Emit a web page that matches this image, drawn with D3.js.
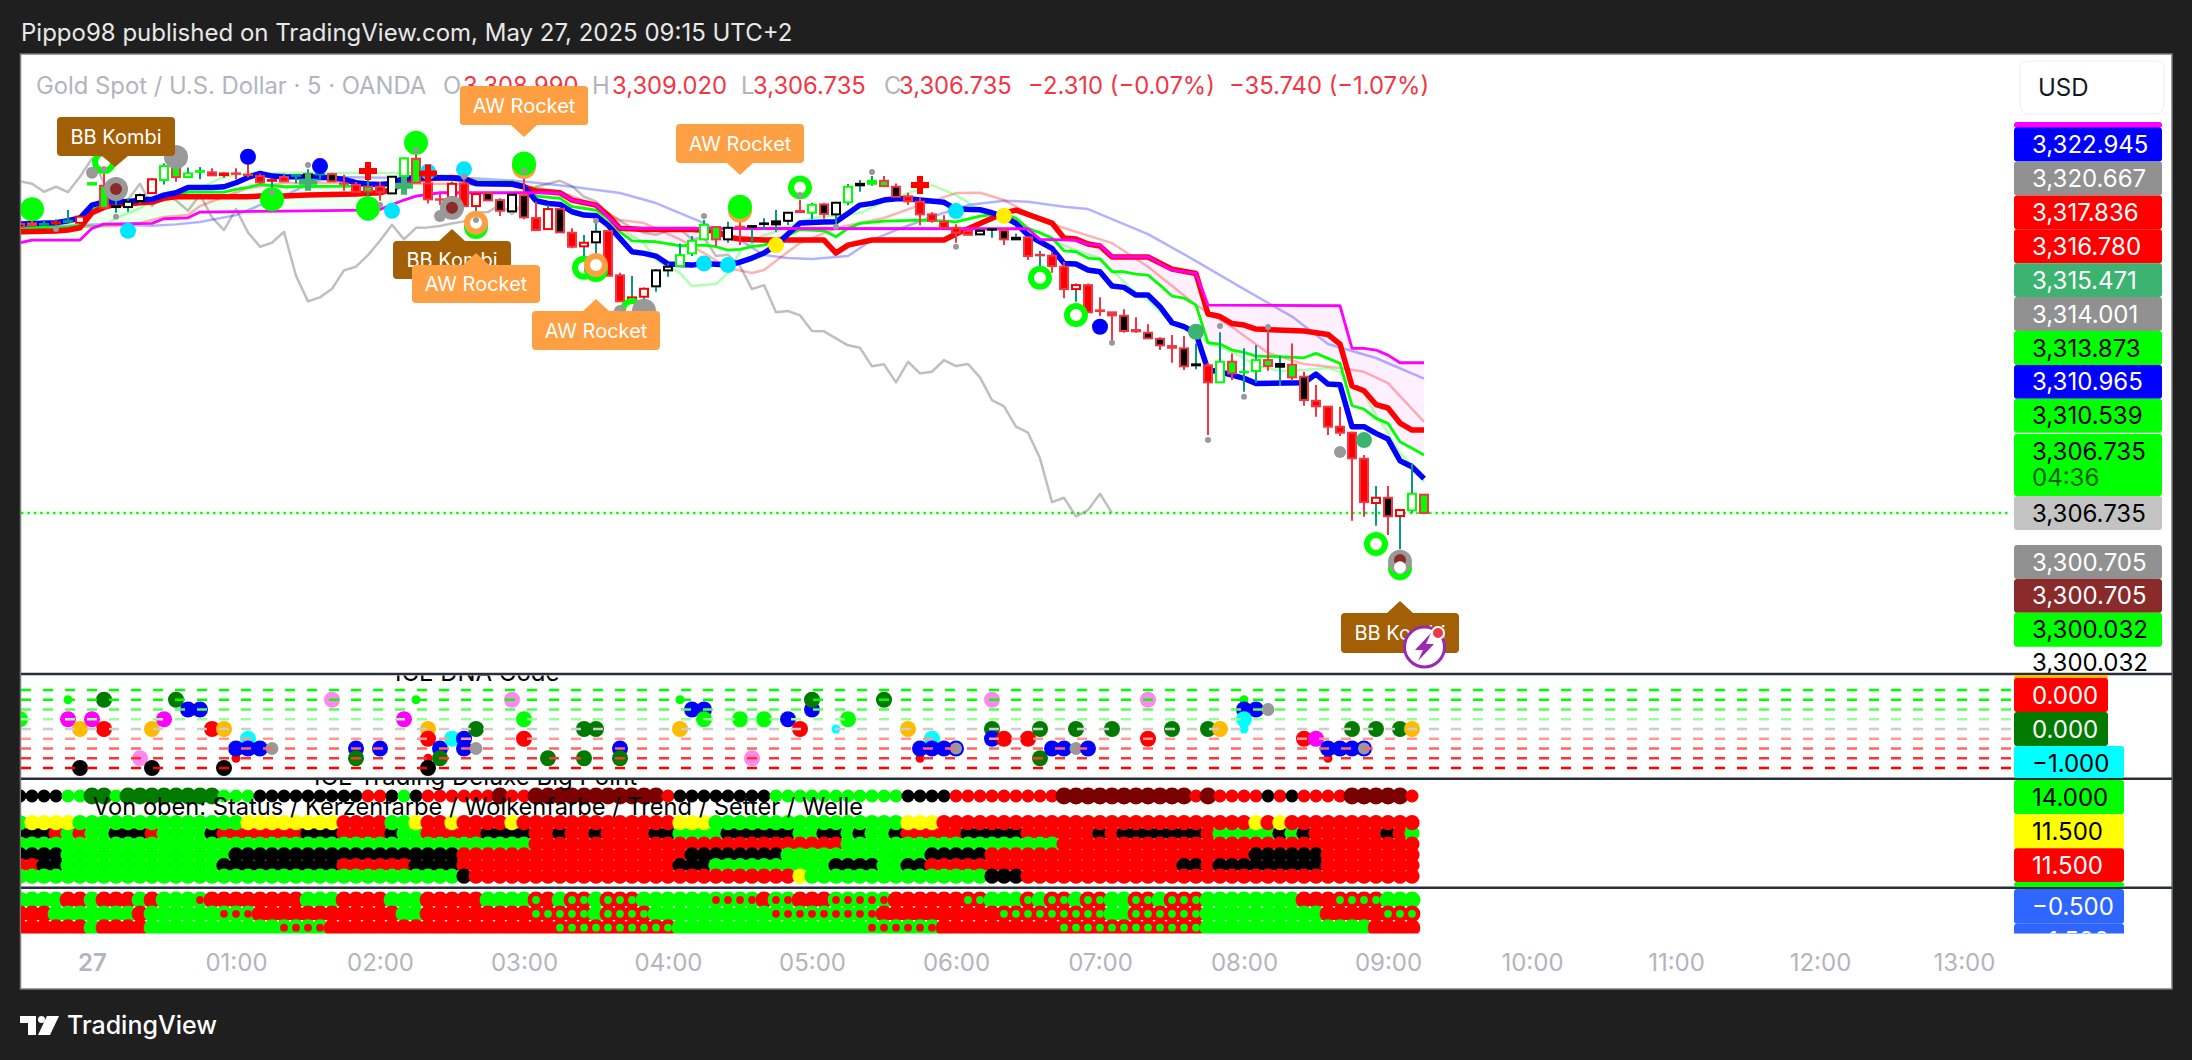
<!DOCTYPE html>
<html>
<head>
<meta charset="utf-8">
<script src="https://cdn.jsdelivr.net/npm/d3@7"></script>
<style>
body { margin: 0; background: #1f1f1f; }
text { font-family: Inter, sans-serif; }
</style>
</head>
<body>
<div id="chart"></div>
<script>
// candles, one per 5 min bar, 23:30 to 09:15
const candleOpen = [3342.28,3342.36,3342.19,3342.36,3342.52,3342.44,3347.14,3346.99,3344.37,3344.37,
3345.11,3346.09,3347.69,3349.50,3348.06,3348.71,3348.64,3348.30,3348.51,3348.34,
3348.18,3347.60,3347.53,3348.22,3348.10,3348.39,3348.43,3347.28,3347.11,3346.30,
3346.87,3346.05,3348.18,3350.31,3347.28,3345.32,3345.19,3347.28,3344.49,3346.09,
3345.23,3343.84,3345.81,3343.02,3341.66,3344.16,3341.21,3339.54,3340.03,3341.42,
3335.97,3332.72,3333.34,3334.62,3336.58,3337.11,3338.67,3340.40,3341.91,3340.40,
3341.95,3341.95,3342.28,3342.24,3342.68,3343.88,3343.67,3344.70,3343.47,3344.95,
3347.04,3347.23,3347.60,3346.87,3345.69,3345.02,3343.47,3342.56,3341.82,3341.42,
3341.01,3341.58,3341.50,3340.40,3340.64,3338.43,3338.38,3337.03,3334.28,3334.77,
3331.66,3331.42,3331.00,3329.24,3328.91,3328.17,3327.27,3326.99,3324.90,3324.90,
3322.81,3325.34,3324.04,3324.20,3325.55,3324.73,3324.97,3323.50,3320.54,3319.81,
3317.35,3316.61,3313.41,3307.96,3308.61,3306.36,3307.06,3308.99];
const candleHigh = [3342.28,3342.68,3342.77,3342.86,3344.00,3343.26,3347.32,3348.71,3345.44,3345.44,
3346.05,3347.90,3349.74,3349.74,3349.25,3349.29,3349.13,3348.59,3349.13,3349.74,
3348.51,3347.69,3348.51,3348.43,3349.01,3348.71,3348.59,3348.34,3347.44,3347.69,
3347.44,3348.18,3350.48,3351.05,3348.30,3345.97,3347.48,3347.78,3346.05,3346.25,
3345.44,3345.97,3348.30,3345.02,3344.61,3344.25,3341.75,3340.92,3342.77,3341.54,
3336.29,3335.88,3334.49,3336.71,3337.44,3339.90,3340.80,3342.77,3341.95,3342.56,
3342.86,3342.07,3342.98,3344.00,3343.72,3345.23,3344.90,3344.90,3345.02,3347.20,
3347.69,3348.18,3348.18,3347.28,3346.13,3345.56,3343.72,3343.35,3342.24,3341.63,
3341.87,3341.70,3341.75,3341.13,3340.72,3338.96,3338.87,3337.64,3334.98,3334.98,
3333.26,3331.45,3331.79,3330.80,3329.94,3328.34,3328.62,3328.50,3327.60,3325.22,
3328.96,3326.37,3326.99,3327.39,3329.45,3326.04,3327.60,3324.11,3322.47,3319.81,
3319.81,3316.73,3313.86,3310.05,3310.05,3307.10,3312.84,3309.02];
const candleLow = [3341.91,3342.03,3342.03,3341.54,3342.36,3342.15,3347.14,3344.21,3343.67,3343.79,
3344.82,3346.05,3347.16,3347.48,3347.97,3347.78,3348.27,3347.97,3347.78,3348.02,
3347.28,3346.13,3347.48,3347.28,3348.10,3347.78,3347.44,3346.37,3346.25,3345.48,
3345.14,3345.97,3346.37,3347.36,3344.82,3344.61,3345.11,3344.41,3342.98,3345.19,
3343.26,3343.75,3342.86,3341.54,3341.66,3341.17,3339.29,3338.26,3338.26,3335.92,
3332.77,3332.52,3332.60,3333.95,3335.80,3337.11,3338.34,3340.31,3339.57,3339.98,
3339.69,3339.98,3341.54,3341.33,3342.15,3343.75,3342.86,3342.93,3341.95,3344.58,
3346.25,3346.99,3346.87,3345.56,3344.61,3342.12,3342.44,3341.75,3339.98,3340.92,
3340.92,3340.59,3339.69,3340.40,3337.85,3337.11,3336.29,3333.14,3332.72,3331.42,
3330.96,3327.80,3328.91,3328.91,3328.22,3326.78,3325.22,3324.32,3324.41,3316.32,
3322.76,3323.09,3321.65,3322.76,3324.23,3322.35,3323.00,3319.93,3318.58,3316.32,
3316.20,3305.78,3306.28,3305.17,3304.02,3302.27,3306.77,3306.735];
const candleClose = [3341.91,3342.15,3342.28,3342.49,3342.68,3343.18,3347.32,3344.28,3344.46,3345.02,
3345.84,3347.78,3349.41,3348.06,3348.51,3348.80,3348.27,3348.51,3348.46,3348.30,
3347.41,3347.69,3348.06,3348.30,3348.39,3348.43,3347.53,3347.23,3346.25,3346.87,
3346.21,3348.10,3350.36,3347.36,3345.32,3345.27,3347.23,3344.49,3345.97,3345.19,
3343.91,3345.88,3343.10,3341.54,3344.12,3341.26,3339.49,3339.98,3341.33,3335.92,
3332.77,3333.26,3334.32,3336.58,3337.03,3338.46,3340.22,3342.19,3340.40,3341.82,
3341.87,3342.03,3342.36,3342.61,3343.67,3343.75,3344.65,3343.51,3344.90,3346.87,
3347.23,3347.60,3346.95,3345.64,3345.07,3343.47,3342.68,3341.82,3341.21,3340.96,
3341.45,3341.63,3340.40,3340.59,3338.34,3338.50,3337.11,3334.28,3334.77,3331.42,
3331.58,3331.05,3329.12,3329.08,3328.22,3327.36,3327.06,3324.78,3325.02,3322.81,
3325.34,3323.91,3324.11,3325.55,3324.81,3325.06,3323.42,3320.63,3319.86,3317.35,
3316.61,3313.46,3308.08,3308.61,3306.33,3307.10,3309.10,3306.735];
const candleKinds = "b c t e t R l g k K K R G g G l r e c c r e r t k t b c r g r K G g r c R r R b b K b r R b r R K r r R R K K G G G g K c k k k K c G b K G k l g b r r r r r r K k b k r c r r R r c c b c b b c b k r G g l G g k g b r r r r r R b R G g".split(" ");

// moving averages, read at their vertices
const blueBars = [0,3,4,5,6,7,9,10,11,12,13,14,16,17,18,19,20,21,22,25,27,28,29,30,31,32,34,36,37,38,41,42,43,44,45,46,47,48,49,50,51,52,53,54,56,57,59,60,61,62,63,64,65,67,68,69,70,71,72,73,74,75,77,78,80,81,82,83,84,85,86,87,88,89,90,91,92,93,94,95,96,97,98,99,100,101,102,103,107,108,109,110,111,112,113,114,115,116,117];
const blueValues = [3342.28,3342.44,3342.68,3343.02,3344.61,3345.02,3345.02,3345.23,3345.32,3345.84,3346.13,3346.79,3346.79,3346.87,3347.36,3348.02,3348.51,3348.18,3348.10,3348.06,3347.78,3347.36,3347.20,3347.16,3347.28,3347.90,3348.02,3347.94,3347.78,3347.28,3347.20,3346.87,3345.14,3344.82,3344.70,3343.79,3343.38,3343.30,3342.15,3340.52,3338.87,3338.67,3338.34,3337.36,3337.23,3337.44,3337.23,3337.60,3338.10,3338.71,3339.69,3341.05,3342.40,3342.52,3342.56,3343.59,3344.61,3344.82,3345.23,3345.39,3345.39,3345.23,3344.95,3344.12,3344.04,3343.67,3343.18,3342.36,3340.92,3340.10,3339.29,3337.44,3337.36,3336.62,3336.41,3334.65,3334.49,3333.54,3333.54,3332.11,3330.14,3329.65,3328.83,3324.32,3324.11,3323.70,3323.30,3322.68,3322.76,3323.83,3322.60,3322.51,3317.35,3317.35,3316.53,3315.83,3313.16,3312.43,3310.965];
const redBars = [0,3,4,5,6,7,8,9,10,11,12,13,19,20,22,24,28,30,31,32,33,36,37,38,41,42,43,45,46,48,49,50,52,56,58,59,60,62,67,68,69,71,77,78,82,83,86,87,88,89,90,91,94,96,98,99,100,101,102,103,107,109,110,111,112,113,114,115,116,117];
const redValues = [3341.33,3341.42,3341.54,3341.82,3343.67,3344.33,3344.74,3344.74,3344.90,3344.98,3345.44,3345.64,3345.64,3345.72,3345.72,3345.84,3345.97,3346.13,3346.55,3347.28,3347.78,3348.02,3347.90,3347.28,3347.20,3346.87,3346.34,3346.13,3345.23,3344.61,3343.38,3341.75,3341.60,3341.60,3341.42,3340.68,3340.43,3340.31,3340.31,3338.71,3339.69,3340.31,3340.31,3341.05,3343.63,3344.00,3342.40,3340.56,3340.43,3339.82,3339.57,3338.22,3338.22,3336.74,3336.19,3331.21,3330.90,3330.04,3329.85,3329.36,3329.12,3328.69,3327.52,3322.35,3321.77,3320.08,3319.65,3317.80,3316.94,3316.94];
const limeBars = [0,4,5,6,7,8,10,11,12,13,14,17,18,19,20,22,28,30,31,32,33,36,37,38,41,42,43,45,46,48,49,50,51,53,55,57,58,59,60,61,62,63,64,65,67,68,69,70,72,75,77,78,80,82,83,84,85,86,87,88,89,90,91,92,93,94,95,96,97,98,99,100,101,102,103,105,107,108,109,110,111,112,113,114,115,116,117];
const limeValues = [3341.79,3341.91,3342.15,3344.00,3344.74,3344.90,3345.02,3345.14,3345.64,3345.84,3346.21,3346.21,3346.55,3346.79,3347.16,3346.87,3346.95,3347.07,3347.28,3347.69,3348.02,3348.10,3348.02,3347.48,3347.48,3347.07,3345.72,3345.44,3344.41,3344.00,3342.98,3341.33,3340.22,3340.10,3339.61,3339.69,3339.49,3339.08,3339.17,3339.49,3339.69,3340.31,3340.92,3341.60,3341.45,3340.72,3341.75,3342.36,3342.65,3342.77,3342.68,3342.56,3343.26,3343.59,3342.98,3341.75,3341.21,3340.56,3338.99,3338.87,3338.10,3337.97,3336.41,3336.41,3336.13,3336.00,3334.77,3333.42,3333.18,3332.31,3327.68,3327.52,3326.78,3326.50,3326.04,3325.96,3325.83,3326.37,3325.76,3325.14,3319.93,3319.52,3318.38,3317.76,3315.50,3314.69,3313.86];
const magentaBars = [0,1,5,6,7,11,12,14,15,22,29,30,32,33,35,44,45,46,48,49,50,84,85,88,89,90,91,94,95,96,98,99,110,111,112,113,114,115,117];
const magentaValues = [3339.98,3340.31,3340.31,3341.75,3342.28,3342.36,3342.93,3343.05,3343.75,3343.88,3344.00,3344.09,3345.23,3345.72,3346.13,3346.13,3346.09,3345.23,3344.61,3343.18,3341.75,3341.70,3340.40,3340.31,3339.82,3339.69,3338.26,3338.26,3337.44,3336.62,3336.21,3332.31,3332.23,3326.99,3326.99,3326.78,3326.16,3325.22,3325.22];
const slowBlueBars = [0,5,7,11,13,15,18,20,22,24,26,32,36,41,43,46,50,53,55,57,58,60,62,64,66,69,71,73,76,79,82,84,87,89,94,98,102,106,109,113,117];
const slowBlueValues = [3341.79,3342.15,3342.24,3342.07,3342.24,3342.52,3343.38,3344.61,3345.72,3347.20,3348.06,3347.94,3348.06,3347.63,3347.36,3346.87,3346.09,3344.86,3343.63,3342.40,3341.54,3340.31,3338.46,3338.10,3337.97,3338.34,3340.31,3341.54,3343.18,3344.61,3345.14,3345.02,3344.41,3344.12,3341.05,3337.73,3334.28,3330.90,3327.52,3325.80,3323.26];
const slowRedBars = [0,8,10,12,14,15,17,19,22,30,36,41,43,45,48,49,50,52,55,57,59,61,62,64,65,68,72,75,78,80,82,84,87,91,94,98,101,104,107,110,112,114,115,117];
const slowRedValues = [3341.79,3342.03,3342.40,3343.14,3343.38,3344.49,3345.64,3346.71,3347.32,3347.32,3347.20,3346.95,3346.71,3346.25,3344.61,3343.63,3342.77,3342.40,3340.40,3338.71,3336.87,3336.25,3336.62,3338.87,3339.94,3341.79,3343.02,3344.61,3346.09,3346.13,3345.23,3343.63,3341.79,3339.94,3337.03,3332.31,3329.61,3326.41,3325.06,3324.57,3324.11,3322.72,3321.12,3317.96];
const slowGreenBars = [0,7,8,10,12,15,17,19,25,33,36,38,43,46,48,50,52,53,55,56,58,59,60,62,63,65,66,70,72,74,76,78,80,82,85,86,88,90,91,93,94,96,98,99,101,103,105,107,109,110,111,112,113,114,115,116,117];
const slowGreenValues = [3341.91,3342.03,3343.02,3344.25,3346.09,3346.71,3348.10,3348.55,3348.55,3348.55,3348.18,3347.69,3346.71,3345.23,3343.63,3341.79,3339.94,3337.85,3336.25,3334.65,3334.90,3336.25,3338.87,3340.92,3341.33,3342.56,3343.02,3343.63,3345.02,3346.09,3347.07,3345.84,3344.00,3342.77,3341.17,3340.31,3339.08,3338.10,3336.62,3333.79,3332.93,3330.10,3328.87,3327.64,3326.57,3324.93,3324.20,3324.32,3324.57,3324.11,3322.47,3321.49,3318.78,3316.57,3314.11,3312.63,3310.58];

// markers on the price pane
const markerBars = [1,7,13,6,8,8,19,3,8,7,21,21,9,24,25,24,29,29,29,30,31,32,33,33,34,34,37,37,36,36,35,38,38,38,42,42,42,47,48,48,48,51,52,50,57,57,59,60,60,63,65,65,68,71,75,78,78,82,85,88,90,91,98,99,100,102,104,110,112,113,115,115,115,115];
const markerPrices = [3344.09,3349.90,3350.52,3348.59,3346.58,3346.58,3350.56,3341.66,3343.18,3349.04,3345.32,3346.13,3341.45,3349.53,3349.41,3347.48,3343.63,3344.21,3348.80,3344.61,3343.91,3346.99,3352.28,3351.38,3348.71,3348.51,3349.01,3348.10,3344.28,3344.28,3343.26,3341.91,3342.44,3342.77,3349.29,3349.74,3348.83,3336.90,3336.62,3337.23,3342.68,3331.70,3331.61,3331.58,3337.44,3343.26,3337.23,3343.91,3344.41,3339.69,3346.79,3345.84,3341.95,3348.67,3347.07,3343.88,3339.49,3343.30,3335.67,3331.08,3329.65,3327.68,3329.03,3315.71,3329.73,3321.04,3329.61,3314.23,3315.71,3302.92,3299.93,3300.74,3300.95,3300.05];
const markerKinds = ["lime","limeRing","gray","graySmall","gray","brown","blue","dot","dot","dot","lime","dot","cyan","dot","blue","seaCross","cyan","lime","redCross","dot","cyan","seaCross","lime","dot","cyan","redCross","cyan","dot","gray","brown","graySmall","lime","orangeRing","dot","orange","lime","dot","limeRing","lime","orangeRing","dot","limeRing","gray","graySmall","cyan","dot","cyan","orange","lime","yellow","limeRing","dot","dot","dot","redCross","cyan","dot","yellow","limeRing","limeRing","blue","dot","sea","dot","dot","dot","dot","graySmall","sea","limeRing","limeRing","gray","brown","hole"];

// ICE DNA Code dots
const dnaBars = [0,4,7,4,5,6,7,5,10,11,12,11,13,14,15,16,17,17,18,19,18,19,20,21,26,28,28,30,32,33,34,34,34,34,35,35,36,37,37,38,38,41,42,42,44,47,48,47,50,50,55,55,56,57,57,60,62,61,64,65,66,66,68,69,72,74,75,75,76,76,77,78,81,81,81,82,84,85,85,86,87,88,89,88,91,94,94,96,99,100,102,102,103,104,102,102,107,108,109,109,110,111,112,111,113,115,116];
const dnaLevels = [1,3,3,1,0,1,0,-4,-3,0,1,-4,3,2,2,0,0,-4,-3,-1,-2,-2,-2,-2,3,-2,-3,-2,1,3,0,-1,-3,-4,-2,-3,-1,-1,-2,0,-2,3,1,-1,-3,0,0,-3,-2,-3,3,0,2,2,1,1,1,-3,1,0,2,3,0,1,3,0,-3,-2,-1,-2,-2,-2,3,0,-1,-1,-1,0,-3,-2,-2,-2,-2,0,0,3,-1,0,0,0,3,2,2,2,1,0,-1,-1,-3,-2,-2,-2,-2,0,0,0,0];
const dnaKinds = ["lime","limeS","green","magenta","amber","magenta","red","black","pink","amber","magenta","black","green","blue","blue","red","amber","black","redS","cyan","blue","blue","blue","gray","pink","blue","green","blue","magenta","limeS","amber","red","redS","black","blue","green","cyan","blue","blue","green","gray","pink","lime","red","green","green","green","green","blue","green","limeS","amber","blue","blue","lime","lime","lime","pink","blue","red","blue","green","cyanS","lime","green","amber","redS","blue","cyan","blue","blue","grayBlue","pink","green","blue","red","red","green","green","blue","blue","gray","blue","green","green","pink","red","green","green","amber","limeS","blue","blue","gray","cyan","cyanS","red","magenta","redS","blue","blue","blue","grayBlue","green","green","green","amber"];
const dnaLevelColors = ["#00ff00","#00ff00","#55ff55","#99ff99","#cccccc","#ff9999","#ff6666","#ff3333","#ff0000"];
const dnaLevelValues = [4,3,2,1,0,-1,-2,-3,-4];

// Big Point rows, "code count" runs per bar
const statusRow = "k4 l2 g2 l1 g8 l3 k9 r2 k1 l1 k1 r6 d1 r2 d11 r1 k8 l11 k4 r9 d11 r1 d1 r4 k1 r1 k1 r4 d5 r1";
const bigPointRows = [
  ["Wolkenfarbe", "k3 r1 l1 r1 l2 k3 r1 l4 k1 r7 k3 r4 k1 l2 r5 k4 r2 k1 r2 k1 r4 k2 l4 k6 l2 k2 l1 k1 l2 k1 r5 k5 r6 k1 r1 k7 r1 l5 k1 l1 k1 r6 k1 r1 l1"],
  ["Kerzenfarbe", "l1 y4 l14 y8 r4 l2 y1 r2 y1 r4 y1 r13 y3 l16 y3 r26 y1 r1 y1 r11"],
  ["Trend", "l43 r26 l18 r30"],
  ["Setter", "k4 l14 k19 r19 k8 l12 k5 r22 k6 r8"],
  ["Welle", "r2 k2 l13 k10 r6 k4 r18 k3 l10 k4 l2 k2 r21 k2 r1 k9 r8"],
  ["Basis", "l37 k1 r27 y1 l15 k3 r33"]
];
// lowest pane, L lime, R red, a lime with red core, b red with lime core
const signalRows = [
  "L4 R2 L1 R3 L1 R1 L3 a1 R8 L3 R4 L3 R5 L4 b1 R1 L1 b2 L1 b3 L6 a4 R1 a2 R3 a5 R6 b2 L3 b1 L1 b2 L1 b2 L2 b2 L1 b3 L8 R3 b4 L3",
  "R3 L7 R1 L6 a3 R12 L2 R9 b5 L1 b4 L10 a9 R10 b9 L2 b6 L10 R5 b3",
  "R6 L1 R4 L11 a4 R19 b10 L16 a6 R10 b12 L14 R4"
];

// price scale labels
const priceTags = ["3,322.945","3,320.667","3,317.836","3,316.780","3,315.471","3,314.001","3,313.873","3,310.965","3,310.539"];
const priceTagFills = ["#0000ff","#919191","#ff0000","#ff0000","#3cb371","#919191","#00ff00","#0000ff","#00ff00"];
const priceTagInk = ["#fff","#fff","#fff","#fff","#fff","#fff","#000","#fff","#000"];
const lowTags = ["3,300.705","3,300.705","3,300.032"];
const lowTagFills = ["#919191","#8b2a2a","#00ff00"];
const lowTagInk = ["#fff","#fff","#000"];
const lastPrice = 3306.735;

const hourBars = [6,18,30,42,54,66,78,90,102,114,126,138,150,162];
const hourLabels = ["27","01:00","02:00","03:00","04:00","05:00","06:00","07:00","08:00","09:00","10:00","11:00","12:00","13:00"];

const legendGray = [["Gold Spot / U.S. Dollar · 5 · OANDA",36],["O",443],["H",592],["L",741],["C",884]];
const legendRed = [["3,308.990",463],["3,309.020",612],["3,306.735",753],["3,306.735",899],["−2.310 (−0.07%)",1028],["−35.740 (−1.07%)",1229]];

const tagColors = {bb:"#a35f05", aw:"#ff9f43"};
const tags = [
  {kind:"aw",label:"AW Rocket",x0:460,x1:588,y0:86,y1:125,tip:524,tipY:137},
  {kind:"aw",label:"AW Rocket",x0:676,x1:804,y0:124,y1:163,tip:740,tipY:175},
  {kind:"bb",label:"BB Kombi",x0:57,x1:175,y0:117,y1:156,tip:115,tipY:167},
  {kind:"bb",label:"BB Kombi",x0:393,x1:511,y0:241,y1:279,tip:452,tipY:229},
  {kind:"aw",label:"AW Rocket",x0:412,x1:540,y0:265,y1:303,tip:476,tipY:253},
  {kind:"aw",label:"AW Rocket",x0:532,x1:660,y0:311,y1:350,tip:596,tipY:299},
  {kind:"bb",label:"BB Kombi",x0:1341,x1:1459,y0:613,y1:653,tip:1400,tipY:601}
];

let svg = d3.select("#chart").append("svg")
.attr("width",2192).attr("height",1060)
.style("display","block");

let defs = svg.append("defs");
defs.append("clipPath").attr("id","mainClip").append("rect").attr("x",21).attr("y",55).attr("width",2150).attr("height",618);
defs.append("clipPath").attr("id","dnaClip").append("rect").attr("x",21).attr("y",675.5).attr("width",1990).attr("height",102);
defs.append("clipPath").attr("id","pointClip").append("rect").attr("x",21).attr("y",780).attr("width",1990).attr("height",107);
defs.append("clipPath").attr("id","signalClip").append("rect").attr("x",21).attr("y",889).attr("width",1990).attr("height",44.5);

svg.append("rect").attr("x",20.5).attr("y",54).attr("width",2151.5).attr("height",935)
.attr("fill","white").attr("stroke","#7c7c7c").attr("stroke-width",1.5);

let x = d3.scaleLinear().domain([0,117]).range([20,1424]);
let y = d3.scaleLinear().domain([3300,3360]).range([567.75,80]);
let close = candleClose;

let main = svg.append("g").attr("clip-path","url(#mainClip)");

let toPoints = (bars,values) => bars.map((b,i)=>({bar:b,price:values[i]}));
let priceLine = d3.line().x(d=>x(d.bar)).y(d=>y(d.price));

// cloud between lime and magenta, green above magenta, pink below
let limePts = toPoints(limeBars,limeValues);
let magentaPts = toPoints(magentaBars,magentaValues);
let cloudPath = priceLine(limePts) + "L" + priceLine(magentaPts.slice().reverse()).slice(1) + "Z";
let aboveMagenta = priceLine(magentaPts) + `L${x(117)},0L${x(0)},0Z`;
let belowMagenta = priceLine(magentaPts) + `L${x(117)},700L${x(0)},700Z`;
defs.append("clipPath").attr("id","aboveClip").append("path").attr("d",aboveMagenta);
defs.append("clipPath").attr("id","belowClip").append("path").attr("d",belowMagenta);
main.append("path").attr("d",cloudPath).attr("fill","rgba(0,255,0,0.06)").attr("clip-path","url(#aboveClip)");
main.append("path").attr("d",cloudPath).attr("fill","rgba(255,0,255,0.06)").attr("clip-path","url(#belowClip)");

// horizontal last price
main.append("line").attr("x1",21).attr("x2",2010).attr("y1",y(lastPrice)).attr("y2",y(lastPrice))
.attr("stroke","#00ff00").attr("stroke-width",2.5).attr("stroke-dasharray","2.5 3.9");

let drawLine = (pts,color,width) => main.append("path")
.attr("d",priceLine(pts)).attr("fill","none").attr("stroke",color).attr("stroke-width",width)
.attr("stroke-linejoin","round");

// lagging close, shifted back 26 bars
let lagPts = close.slice(26).map((c,i)=>({bar:i,price:c}));
drawLine(lagPts,"rgba(128,128,128,0.5)",2.5);
drawLine(toPoints(slowBlueBars,slowBlueValues),"rgba(0,0,255,0.3)",2.5);
drawLine(toPoints(slowRedBars,slowRedValues),"rgba(255,0,0,0.3)",2.5);
drawLine(toPoints(slowGreenBars,slowGreenValues),"rgba(0,255,0,0.3)",2.5);
drawLine(limePts,"#00ff00",2.8);
drawLine(toPoints(redBars,redValues),"#ff0000",5.5);
drawLine(toPoints(blueBars,blueValues),"#0000ff",5.5);
drawLine(magentaPts,"#ff00ff",2.8);

// candles
const kindFill = {r:"#ff0000",b:"#000",g:"#00ff00",R:"#fff",G:"#fff",K:"#fff",c:"#f23645",k:"#000",l:"#00ff00",t:"#089981",e:"#ff0000"};
const kindBorder = {r:"#f23645",b:"#f23645",g:"#f23645",R:"#ff0000",G:"#00ff00",K:"#000",c:"#f23645",k:"#000",l:"#00ff00",t:"#089981",e:"#ff0000"};
let candles = main.selectAll(".candle").data(d3.range(candleOpen.length)).enter().append("g").attr("class","candle");
candles.append("line")
.attr("x1",i=>x(i)).attr("x2",i=>x(i))
.attr("y1",i=>y(candleHigh[i])).attr("y2",i=>y(candleLow[i]))
.attr("stroke",i=>candleClose[i]>=candleOpen[i] ? "#089981" : "#f23645")
.attr("stroke-width",2);
candles.append("rect")
.attr("x",i=>x(i)-4)
.attr("width",8)
.attr("y",i=>y(Math.max(candleOpen[i],candleClose[i])))
.attr("height",i=>Math.abs(y(candleOpen[i])-y(candleClose[i])))
.attr("fill",i=>kindFill[candleKinds[i]])
.attr("stroke",i=>kindBorder[candleKinds[i]])
.attr("stroke-width",2);

// markers
const discs = {lime:["#00ff00",12],gray:["#999999",12],graySmall:["#999999",6],dot:["#999999",3],brown:["#8b2a2a",6],
  blue:["#0000ff",8],cyan:["#00e5ff",8],yellow:["#ffee00",8],sea:["#3cb371",8],orange:["#ff9f43",12],hole:["#ffffff",6]};
markerKinds.forEach((k,i)=>{
  let cx = x(markerBars[i]), cy = y(markerPrices[i]);
  if (k=="limeRing" || k=="orangeRing") {
    main.append("circle").attr("cx",cx).attr("cy",cy).attr("r",9)
    .attr("fill","white").attr("stroke",k=="limeRing" ? "#00ff00" : "#ff9f43").attr("stroke-width",6);
  } else if (k=="redCross" || k=="seaCross") {
    main.append("path").attr("d",`M${cx-9},${cy-3}h6v-6h6v6h6v6h-6v6h-6v-6h-6z`)
    .attr("fill",k=="redCross" ? "#ff0000" : "#3cb371");
  } else {
    main.append("circle").attr("cx",cx).attr("cy",cy).attr("r",discs[k][1]).attr("fill",discs[k][0]);
  }
});

// signal tags
tags.forEach(t=>{
  let col = tagColors[t.kind];
  let g = main.append("g");
  g.append("rect").attr("x",t.x0).attr("y",t.y0).attr("width",t.x1-t.x0).attr("height",t.y1-t.y0).attr("rx",4).attr("fill",col);
  let baseY = t.tipY<t.y0 ? t.y0 : t.y1;
  g.append("path").attr("d",`M${t.tip-13},${baseY}L${t.tip},${t.tipY}L${t.tip+13},${baseY}Z`).attr("fill",col);
  g.append("text").attr("x",(t.x0+t.x1)/2).attr("y",(t.y0+t.y1)/2+7).attr("text-anchor","middle")
  .attr("fill","white").style("font-size","20px").text(t.label);
});

// replay icon
let icon = svg.append("g");
icon.append("circle").attr("cx",1424.5).attr("cy",647).attr("r",20).attr("fill","white").attr("stroke","#9c27b0").attr("stroke-width",3);
icon.append("path").attr("d","M1431,633L1415,650H1423L1418,661L1434,644H1426Z").attr("fill","#9c27b0");
icon.append("circle").attr("cx",1438).attr("cy",633).attr("r",6).attr("fill","#f23645").attr("stroke","white").attr("stroke-width",2);

// legend row
legendGray.forEach(d=>{
  svg.append("text").attr("x",d[1]).attr("y",94).attr("fill","#b2b5be").style("font-size","23.8px").text(d[0]);
});
legendRed.forEach(d=>{
  svg.append("text").attr("x",d[1]).attr("y",94).attr("fill","#f23645").style("font-size","23.8px").text(d[0]);
});
// redraw the first tag over the legend text
let topTag = tags[0];
svg.append("rect").attr("x",topTag.x0).attr("y",topTag.y0).attr("width",topTag.x1-topTag.x0).attr("height",topTag.y1-topTag.y0).attr("rx",4).attr("fill",tagColors.aw);
svg.append("text").attr("x",524).attr("y",112.5).attr("text-anchor","middle").attr("fill","white").style("font-size","20px").text("AW Rocket");

// ICE DNA Code pane
let dna = svg.append("g").attr("clip-path","url(#dnaClip)");
let dnaY = d3.scaleLinear().domain([4,-4]).range([690,768]);
const dnaStyle = {lime:["#00ff00",8],limeS:["#00ff00",4.5],green:["#007b00",8],blue:["#0000ff",8],red:["#ff0000",8],redS:["#ff0000",4.5],
  magenta:["#ff00ff",8],amber:["#ffbb00",8],pink:["#ff88ee",8],cyan:["#00ffff",8],cyanS:["#00ffff",4.5],gray:["#999999",6.5],black:["#000",8],grayBlue:["#0000ff",8]};
dna.selectAll(".dnaDot").data(dnaKinds).enter().append("circle")
.attr("cx",(d,i)=>x(dnaBars[i])).attr("cy",(d,i)=>dnaY(dnaLevels[i]))
.attr("r",d=>dnaStyle[d][1]).attr("fill",d=>dnaStyle[d][0]);
dna.selectAll(".dnaCore").data(dnaKinds.map((k,i)=>i).filter(i=>dnaKinds[i]=="grayBlue")).enter().append("circle")
.attr("cx",i=>x(dnaBars[i])).attr("cy",i=>dnaY(dnaLevels[i])).attr("r",6).attr("fill","#999999");
dna.selectAll(".dnaLevel").data(dnaLevelValues).enter().append("line")
.attr("x1",21).attr("x2",2011)
.attr("y1",d=>dnaY(d)).attr("y2",d=>dnaY(d))
.attr("stroke",(d,i)=>dnaLevelColors[i]).attr("stroke-width",2.5).attr("stroke-dasharray","10 12");
dna.append("text").attr("x",395).attr("y",681).attr("fill","#000").style("font-size","24px").text("ICE DNA Code");

// Big Point pane
let expand = s => s.split(" ").flatMap(r=>d3.range(+r.slice(1)).map(()=>r[0]));
const pointFill = {k:"#000",l:"#00ff00",g:"#007b00",r:"#ff0000",d:"#7b0000",y:"#ffff00"};
let points = svg.append("g").attr("clip-path","url(#pointClip)");
points.selectAll(".status").data(expand(statusRow)).enter().append("circle")
.attr("cx",(d,i)=>x(i)).attr("cy",796)
.attr("r",d=>(d=="g"||d=="d") ? 8.5 : 6.5).attr("fill",d=>pointFill[d]);
let rowY = d3.scalePoint().domain(["Kerzenfarbe","Wolkenfarbe","Trend","Setter","Welle","Basis"]).range([822.7,876.2]);
bigPointRows.forEach(r=>{
  points.append("g").selectAll("circle").data(expand(r[1])).enter().append("circle")
  .attr("cx",(d,i)=>x(i)).attr("cy",rowY(r[0])).attr("r",7.6).attr("fill",d=>pointFill[d]);
});
svg.append("text").attr("x",314).attr("y",785).attr("fill","#000").style("font-size","24px")
.attr("clip-path","url(#pointClip)").text("ICE Trading Deluxe Big Point");
svg.append("text").attr("x",93).attr("y",815).attr("fill","#000").style("font-size","23.65px")
.text("Von oben: Status / Kerzenfarbe / Wolkenfarbe / Trend / Setter / Welle");

// lowest pane
let signalY = d3.scalePoint().domain([0,1,2]).range([900,927.7]);
let signal = svg.append("g").attr("clip-path","url(#signalClip)");
signalRows.forEach((s,row)=>{
  let cells = expand(s);
  signal.append("g").selectAll("circle").data(cells).enter().append("circle")
  .attr("cx",(d,i)=>x(i)).attr("cy",signalY(row)).attr("r",8.4)
  .attr("fill",d=>(d=="L"||d=="a") ? "#00ff00" : "#ff0000");
  signal.append("g").selectAll("circle").data(cells.map((d,i)=>({d:d,i:i})).filter(c=>c.d=="a"||c.d=="b")).enter().append("circle")
  .attr("cx",c=>x(c.i)).attr("cy",signalY(row)).attr("r",3.9)
  .attr("fill",c=>c.d=="a" ? "#ff0000" : "#00ff00");
});

// pane dividers
[674,778.7,887.7].forEach(v=>{
  svg.append("line").attr("x1",21).attr("x2",2172).attr("y1",v).attr("y2",v).attr("stroke","#2a2e39").attr("stroke-width",2.5);
});

// time axis
let timeAxis = d3.axisBottom(x).tickValues(hourBars).tickFormat((d,i)=>hourLabels[i]).tickSize(0);
let axisG = svg.append("g").attr("transform","translate(0,938)").call(timeAxis);
axisG.select(".domain").remove();
axisG.selectAll("text").attr("y",16).attr("dy","17px").attr("fill","#b2b5be")
.style("font-size","24px").style("font-family","Inter, sans-serif")
.style("font-weight",(d,i)=>i==0 ? 600 : 400);

// price scale labels
let tagW = 148, tagH = 33.9;
let drawTag = (yTop,h,w,fill,ink,txt) => {
  svg.append("rect").attr("x",2014).attr("y",yTop).attr("width",w).attr("height",h).attr("rx",3).attr("fill",fill);
  if (txt) svg.append("text").attr("x",2032).attr("y",yTop+25.5).attr("fill",ink).style("font-size","24px").text(txt);
};
drawTag(122,6,tagW,"#ff00ff");
priceTags.forEach((t,i)=>drawTag(127.6+i*tagH,tagH,tagW,priceTagFills[i],priceTagInk[i],t));
drawTag(434,62,tagW,"#00ff00","#000","3,306.735");
svg.append("text").attr("x",2032).attr("y",486).attr("fill","#005f00").style("font-size","24px").text("04:36");
drawTag(496,tagH,tagW,"#c3c3c3","#000","3,306.735");
lowTags.forEach((t,i)=>drawTag(545+i*tagH,tagH,tagW,lowTagFills[i],lowTagInk[i],t));
svg.append("text").attr("x",2032).attr("y",671).attr("fill","#000").style("font-size","24px")
.attr("clip-path","url(#mainClip)").text("3,300.032");
drawTag(675,4,94,"#ffbb00");
drawTag(678,34,94,"#ff0000","#fff","0.000");
drawTag(712,34,94,"#007b00","#fff","0.000");
drawTag(746,32,110,"#00ffff","#000","−1.000");
drawTag(780,34.3,110,"#00ff00","#000","14.000");
drawTag(814.3,33.9,110,"#ffff00","#000","11.500");
drawTag(848.2,33.9,110,"#ff0000","#fff","11.500");
drawTag(882,5,110,"#00ff00");
drawTag(889,34.7,110,"#2f66ff","#fff","−0.500");
defs.append("clipPath").attr("id","signalClip2").append("rect").attr("x",2014).attr("y",889).attr("width",150).attr("height",44.5);
let lastTag = svg.append("g").attr("clip-path","url(#signalClip2)");
lastTag.append("rect").attr("x",2014).attr("y",923.7).attr("width",110).attr("height",34).attr("rx",3).attr("fill","#2f66ff");
lastTag.append("text").attr("x",2032).attr("y",949.2).attr("fill","#fff").style("font-size","24px").text("−1.500");

// USD button
svg.append("rect").attr("x",2020).attr("y",61).attr("width",144).attr("height",53).attr("rx",8).attr("fill","white").attr("stroke","#f0f3fa").attr("stroke-width",1.5);
svg.append("text").attr("x",2038).attr("y",96).attr("fill","#131722").style("font-size","24px").text("USD");

// header and footer
svg.append("text").attr("x",21).attr("y",41).attr("fill","#e8e8e8").style("font-size","24px")
.text("Pippo98 published on TradingView.com, May 27, 2025 09:15 UTC+2");
svg.append("path").attr("d","M20,1016H36V1035H28V1023H20Z M38,1035L47,1016H59L50,1035Z").attr("fill","white");
svg.append("circle").attr("cx",41.5).attr("cy",1019.5).attr("r",3.5).attr("fill","white");
svg.append("text").attr("x",67).attr("y",1034).attr("fill","white").style("font-size","25px").style("font-weight",500).text("TradingView");
</script>
</body>
</html>
